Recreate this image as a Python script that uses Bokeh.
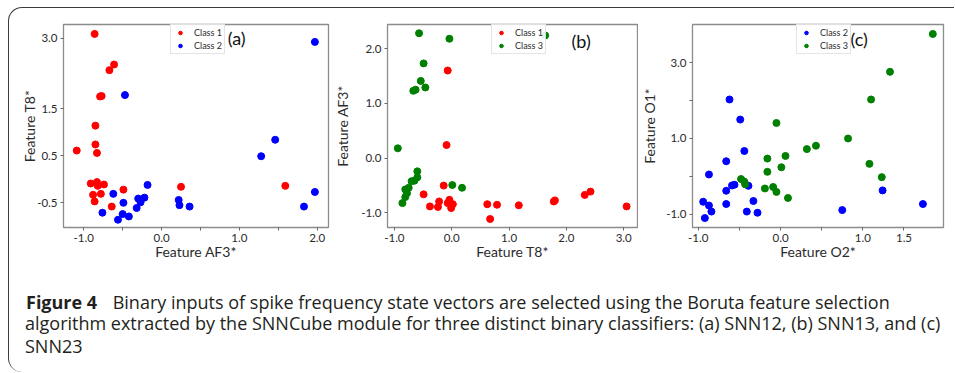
from bokeh.plotting import figure
from bokeh.models import Range1d, FixedTicker, NumeralTickFormatter, Legend, LegendItem, Label, ColumnDataSource
from bokeh.layouts import row, column
from bokeh.embed import file_html
from bokeh.resources import INLINE
from bokeh.core.properties import value

# ---------------- (a) SNN12: Class 1 vs Class 2 ----------------
a_class1_af3 = [-0.86, -0.61, -0.67, -0.77, -0.79, -0.85, -0.85, -1.09, -0.83, -0.91,
                -0.83, -0.82, -0.74, -0.78, -0.88, -0.86, -0.49, -0.64, 0.25, 1.59]
a_class1_t8 = [3.09, 2.44, 2.32, 1.77, 1.76, 1.14, 0.74, 0.61, 0.56, -0.09,
               -0.06, -0.14, -0.11, -0.31, -0.33, -0.47, -0.22, -0.58, -0.16, -0.14]
a_class2_af3 = [1.97, -0.47, 1.46, 1.28, -0.18, -0.62, -0.22, -0.30, -0.27, -0.32,
                -0.49, -0.76, -0.50, -0.42, -0.56, 0.22, 0.23, 0.36, 1.97, 1.83]
a_class2_t8 = [2.92, 1.79, 0.84, 0.49, -0.12, -0.31, -0.39, -0.41, -0.49, -0.61,
               -0.50, -0.71, -0.74, -0.79, -0.86, -0.44, -0.55, -0.58, -0.27, -0.58]
a_xticks = [-1.0, 0.0, 1.0, 2.0]
a_xminor = [-0.5, 0.5, 1.5]
a_yticks = [-0.5, 0.5, 1.5, 3.0]
a_yminor = []

# ---------------- (b) SNN13: Class 1 vs Class 3 ----------------
b_class1_t8 = [-0.07, -0.09, -0.14, -0.49, -0.38, -0.22, -0.24, -0.04, -0.07, 0.02,
               -0.01, 0.62, 0.67, 0.79, 1.17, 1.78, 1.80, 2.32, 2.42, 3.05]
b_class1_af3 = [1.60, 0.24, -0.50, -0.66, -0.88, -0.79, -0.89, -0.76, -0.82, -0.84,
                -0.91, -0.84, -1.11, -0.85, -0.86, -0.79, -0.77, -0.67, -0.61, -0.88]
b_class3_t8 = [-0.57, -0.04, 1.63, -0.49, -0.54, -0.46, -0.63, -0.67, -0.94, -0.60,
               -0.60, -0.65, -0.70, -0.75, -0.81, -0.78, -0.81, -0.86, 0.01, 0.18]
b_class3_af3 = [2.28, 2.18, 2.24, 1.73, 1.41, 1.29, 1.25, 1.23, 0.18, -0.24,
                -0.35, -0.41, -0.42, -0.54, -0.57, -0.64, -0.71, -0.82, -0.49, -0.54]
b_xticks = [-1.0, 0.0, 1.0, 2.0, 3.0]
b_xminor = []
b_yticks = [-1.0, 0.0, 1.0, 2.0]
b_yminor = []

# ---------------- (c) SNN23: Class 2 vs Class 3 ----------------
c_class2_o2 = [-0.62, -0.49, -0.44, -0.66, -0.87, -0.59, -0.56, -0.39, -0.66, -0.66,
               -0.33, -0.94, -0.87, -0.84, -0.92, -0.41, -0.28, 0.75, 1.24, 1.73]
c_class2_o1 = [2.03, 1.50, 0.67, 0.40, 0.05, -0.24, -0.22, -0.25, -0.38, -0.73,
               -0.65, -0.67, -0.77, -0.93, -1.10, -0.93, -0.96, -0.89, -0.37, -0.73]
c_class3_o2 = [1.85, 1.33, 1.10, -0.05, 0.82, 0.43, 0.32, 0.06, -0.16, 0.01,
               -0.16, 1.08, 1.23, -0.48, -0.44, -0.43, -0.19, -0.09, -0.05, 0.09]
c_class3_o1 = [3.76, 2.76, 2.03, 1.41, 1.00, 0.81, 0.72, 0.54, 0.47, 0.24,
               0.12, 0.33, -0.02, -0.07, -0.14, -0.21, -0.32, -0.28, -0.41, -0.57]
c_xticks = [-1.0, 0.0, 1.0, 1.5]
c_xminor = [-0.5, 0.5]
c_yticks = [-1.0, 1.0, 3.0]
c_yminor = [0.0, 2.0]

class_colors = {"Class 1": "#ff0000", "Class 2": "#0000ff", "Class 3": "#008000"}

caption_bold = "Figure 4"
caption_lines = [
    "Binary inputs of spike frequency state vectors are selected using the Boruta feature selection",
    "algorithm extracted by the SNNCube module for three distinct binary classifiers: (a) SNN12, (b) SNN13, and (c)",
    "SNN23",
]

TEXT = "#2b2b2b"
FONT = "Lato"
FIG_H = 257


def panel(series, xlabel, ylabel, xr, yr, xticks, xminor, yticks, yminor,
          tag, tag_xy, legend_xy, width, left, right, ylabel_standoff):
    p = figure(width=width, height=FIG_H, x_range=Range1d(*xr), y_range=Range1d(*yr),
               output_backend="svg", toolbar_location=None,
               min_border_left=left, min_border_right=right,
               min_border_top=16, min_border_bottom=38)
    p.grid.visible = False
    p.background_fill_color = None
    p.border_fill_color = None
    p.outline_line_color = "#8c8c8c"
    p.outline_line_width = 1.3

    p.xaxis.ticker = FixedTicker(ticks=xticks, minor_ticks=xminor)
    p.yaxis.ticker = FixedTicker(ticks=yticks, minor_ticks=yminor)
    for ax in (p.xaxis[0], p.yaxis[0]):
        ax.formatter = NumeralTickFormatter(format="0.0")
        ax.axis_line_color = None
        ax.major_tick_in = 0
        ax.major_tick_out = 3
        ax.minor_tick_in = 0
        ax.minor_tick_out = 3
        ax.major_tick_line_color = "#666666"
        ax.minor_tick_line_color = "#666666"
        ax.major_label_text_font = FONT
        ax.major_label_text_font_size = "11.5px"
        ax.major_label_text_color = TEXT
        ax.major_label_standoff = 3
        ax.axis_label_text_font = FONT
        ax.axis_label_text_font_size = "14px"
        ax.axis_label_text_font_style = "normal"
        ax.axis_label_text_color = TEXT
    p.xaxis.axis_label = xlabel
    p.yaxis.axis_label = ylabel
    p.xaxis.axis_label_standoff = -2
    p.yaxis.axis_label_standoff = ylabel_standoff

    items = []
    for name, xs, ys in series:
        r = p.scatter(xs, ys, size=7, color=class_colors[name])
        items.append(LegendItem(label=name, renderers=[r]))
    legend = Legend(items=items, location=legend_xy,
                    label_text_font=FONT, label_text_font_size="9px", label_text_color=TEXT,
                    glyph_width=14, glyph_height=9, label_height=9, label_standoff=7,
                    spacing=2, padding=2, margin=0,
                    border_line_color="#cccccc", border_line_width=1,
                    background_fill_alpha=0.9)
    p.add_layout(legend)

    p.add_layout(Label(x=tag_xy[0], y=tag_xy[1], text=tag, text_font=FONT,
                       text_font_size="18px", text_color="#111111",
                       text_baseline="middle", text_align="left"))
    return p


pa = panel([("Class 1", a_class1_af3, a_class1_t8), ("Class 2", a_class2_af3, a_class2_t8)],
           "Feature AF3*", "Feature T8*", (-1.26, 2.145), (-1.025, 3.29),
           a_xticks, a_xminor, a_yticks, a_yminor,
           "(a)", (0.85, 3.0), (107, 173), 322, 54, 3, -4)

pb = panel([("Class 1", b_class1_t8, b_class1_af3), ("Class 3", b_class3_t8, b_class3_af3)],
           "Feature T8*", "Feature AF3*", (-1.12, 3.24), (-1.265, 2.44),
           b_xticks, b_xminor, b_yticks, b_yminor,
           "(b)", (2.09, 2.14), (104, 173), 307, 41, 1, 7)

pc = panel([("Class 2", c_class2_o2, c_class2_o1), ("Class 3", c_class3_o2, c_class3_o1)],
           "Feature O2*", "Feature O1*", (-1.07, 1.98), (-1.35, 4.01),
           c_xticks, c_xminor, c_yticks, c_yminor,
           "(c)", (0.85, 3.62), (104, 173), 307, 41, 2, 5)

# caption panel, coordinates in pixels from its top-left corner
CAP_W, CAP_H = 936, 107
cap = figure(width=CAP_W, height=CAP_H, x_range=Range1d(0, CAP_W), y_range=Range1d(CAP_H, 0),
             x_axis_type=None, y_axis_type=None, output_backend="svg", toolbar_location=None,
             min_border=0)
cap.grid.visible = False
cap.outline_line_color = None
cap.background_fill_color = None
cap.border_fill_color = None

cap.text(x=[16.5], y=[36.8], text=[caption_bold], text_font=value("Open Sans"),
         text_font_size=value("18px"), text_font_style="bold", text_color="#231f20",
         text_baseline="alphabetic")
cap_src = ColumnDataSource(dict(x=[103.2, 15.5, 15.5], y=[36.8, 57.5, 80.5], text=caption_lines))
cap.text(x="x", y="y", text="text", source=cap_src, text_font=value("Open Sans"),
         text_font_size=value("18px"), text_color="#231f20", text_baseline="alphabetic")

layout = column(row(pa, pb, pc, spacing=0), cap, spacing=0)
layout.styles = {
    "margin-left": "8px",
    "margin-top": "7px",
    "padding-right": "9px",
    "border-top": "1.5px solid #3c3c3c",
    "border-left": "1.5px solid #3c3c3c",
    "border-top-left-radius": "14px",
    "border-bottom-left-radius": "14px",
}

open("out.html", "w").write(file_html(layout, INLINE))
